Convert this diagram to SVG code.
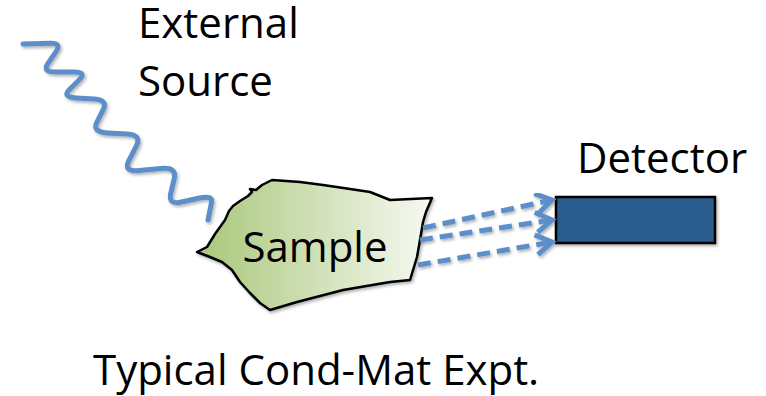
<svg xmlns="http://www.w3.org/2000/svg" width="766" height="396" viewBox="0 0 766 396">
<style>
.t{font-family:"Open Sans","Liberation Sans",sans-serif;fill:#000;font-size:42px}
.ray{fill:none;stroke:#5b8fca;stroke-width:5;stroke-linecap:round;stroke-linejoin:round}
.dash{fill:none;stroke:#5b8fca;stroke-width:5;stroke-dasharray:13 7}
</style>
<defs>
<linearGradient id="g" x1="0" y1="0" x2="1" y2="0">
<stop offset="0" stop-color="#a9c77a"/>
<stop offset="1" stop-color="#f7f9f2"/>
</linearGradient>
<filter id="sh" x="-10%" y="-10%" width="130%" height="130%">
<feDropShadow dx="1.5" dy="2" stdDeviation="1.5" flood-color="#000" flood-opacity="0.3"/>
</filter>
<marker id="ah" markerUnits="userSpaceOnUse" markerWidth="30" markerHeight="30" refX="22" refY="15" orient="auto" viewBox="0 0 30 30">
<path d="M6,5 L22,15 L6,25" fill="none" stroke="#5b8fca" stroke-width="5" stroke-linejoin="miter"/>
</marker>
</defs>
<g id="source">
<path class="ray" filter="url(#sh)" d="M23,44 L50.3,43.3 Q62,43 56,51.7 L48,63.3 Q42,72 55.5,72 L73.5,72 Q87,72 79.5,79.5 L69.5,89.5 Q62,97 75.8,97.9 L94.2,99.1 Q108,100 103.2,109.6 L96.8,122.4 Q92,132 107,132.9 L127,134.1 Q142,135 136.3,146.1 L128.7,160.9 Q123,172 139.2,170.5 L160.8,168.5 Q177,167 174.3,178.4 L170.7,193.6 Q168,205 181.5,202 L199.5,198 Q213,195 211.5,202.5 L208,220"/>
<text class="t" x="138" y="38">External</text>
<text class="t" x="138" y="96">Source</text>
</g>
<g id="sample">
<path filter="url(#sh)" fill="url(#g)" stroke="#000" stroke-width="2.5" stroke-linejoin="round" d="M197,252 L207,247 L215,234 L225,220 L229,211 L233,206 L240,201 L248,196 L252,192 L250,189 L256,190 L262,185 L272,180 L300,182 L323,185 L350,189 L370,192 L390,200 L432,198 L426,212 L423,222 L420,240 L417,257 L410,280 L390,282 L343,290 L297,302 L270,310 L260,303 L250,293 L240,282 L232,270 L222,262 L210,257 Z"/>
<text class="t" x="315" y="262" text-anchor="middle">Sample</text>
</g>
<g id="detector">
<rect x="556" y="197" width="159" height="46" fill="#2a5b8e" stroke="#000" stroke-width="2.5" filter="url(#sh)"/>
<text class="t" x="577" y="173">Detector</text>
</g>
<g id="connectors" filter="url(#sh)">
<path class="dash" d="M423,228 L552,200" marker-end="url(#ah)"/>
<path class="dash" d="M420,240 L552,220" marker-end="url(#ah)"/>
<path class="dash" d="M418,265 L552,242" marker-end="url(#ah)"/>
</g>
<text class="t" x="93" y="385">Typical Cond-Mat Expt.</text>
</svg>
